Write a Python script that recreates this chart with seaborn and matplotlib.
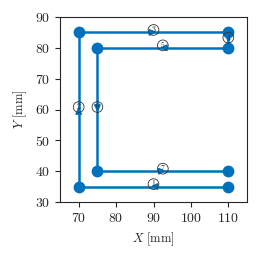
import matplotlib
matplotlib.use("Agg")
import matplotlib.pyplot as plt
import seaborn as sns
import pandas as pd
import numpy as np

x_mm = [110, 70, 70, 110, 110, 75, 75, 110]
y_mm = [35, 35, 85, 85, 80, 80, 40, 40]
seg_labels = ["1", "2", "3", "4", "5", "6", "7"]

sns.set_style("ticks")
plt.rcParams["font.family"] = ["serif"]
plt.rcParams["font.serif"] = ["cmr10", "DejaVu Serif"]
plt.rcParams["mathtext.fontset"] = "cm"
plt.rcParams["axes.formatter.use_mathtext"] = True

fig = plt.figure(figsize=(2.58, 2.61), dpi=100)
ax = fig.add_axes([60/258, 59/261, 187/258, 185/261])

df = pd.DataFrame({"x": x_mm, "y": y_mm})
color = "#0072BD"
sns.lineplot(data=df, x="x", y="y", sort=False, ax=ax, color=color,
             linewidth=1.8, marker="o", markersize=8.5, markeredgewidth=0,
             estimator=None)

for i in range(len(x_mm) - 1):
    x0, y0, x1, y1 = x_mm[i], y_mm[i], x_mm[i+1], y_mm[i+1]
    mx, my = (x0 + x1) / 2, (y0 + y1) / 2
    dx, dy = x1 - x0, y1 - y0
    L = np.hypot(dx, dy)
    ux, uy = dx / L, dy / L
    ax.annotate("", xy=(mx + ux * 0.8, my + uy * 0.8), xytext=(mx - ux * 0.3, my - uy * 0.3),
                arrowprops=dict(arrowstyle="-|>", color=color, lw=1.3,
                                mutation_scale=9, shrinkA=0, shrinkB=0))
    ax.text(mx, my + 0.8, seg_labels[i], fontsize=5.5, ha="center", va="center",
            bbox=dict(boxstyle="circle,pad=0.15", fc="none", ec="#333333", lw=0.6))

ax.set_xlim(65, 115)
ax.set_ylim(30, 90)
ax.set_xticks([70, 80, 90, 100, 110])
ax.set_yticks([30, 40, 50, 60, 70, 80, 90])
ax.tick_params(labelsize=10, length=3.5, width=0.8)
ax.set_xlabel(r"$X$ [mm]", fontsize=9)
ax.set_ylabel(r"$Y$ [mm]", fontsize=9)
for s in ax.spines.values():
    s.set_linewidth(0.8)

fig.savefig("out.png", dpi=100)
